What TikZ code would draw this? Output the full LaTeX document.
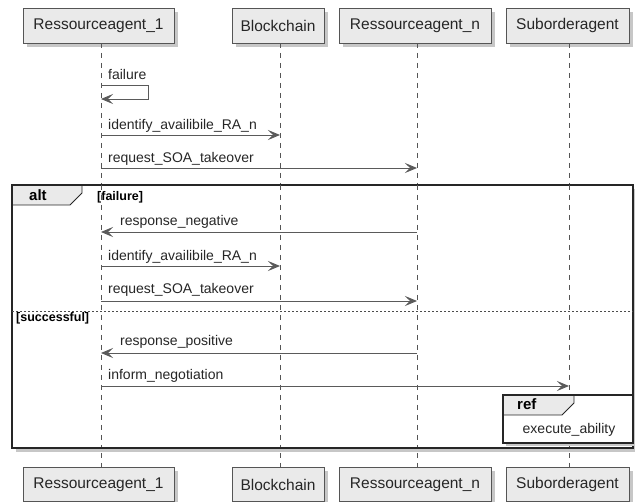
\documentclass[tikz,border=0pt]{standalone}
\usepackage{fontspec}
\setmainfont{Liberation Sans}
\usetikzlibrary{arrows.meta}
\definecolor{boxfill}{HTML}{EAEAEA}
\definecolor{boxline}{HTML}{555555}
\definecolor{msgline}{HTML}{5A5A5A}
\definecolor{lifeline}{HTML}{555555}
\tikzset{
  part/.style={draw=boxline, line width=0.8pt, fill=boxfill, minimum height=35pt, inner sep=0pt, font=\fontsize{15.5}{18}\selectfont, text=black!85},
  shadowbox/.style={fill=black!22, draw=none},
  life/.style={draw=lifeline, dash pattern=on 5pt off 5pt, line width=0.6pt},
  msg/.style={draw=msgline, line width=0.9pt, -{Stealth[length=12pt,width=10pt,inset=5pt]}},
  msgtxt/.style={anchor=base west, inner sep=0pt, font=\fontsize{14}{16}\selectfont, text=black!85},
  guard/.style={anchor=base west, inner sep=0pt, font=\bfseries\fontsize{12.5}{14}\selectfont},
  framebox/.style={draw=black!85, line width=1.6pt},
}
\begin{document}
\begin{tikzpicture}[x=1pt,y=-1pt]
\useasboundingbox (0,0) rectangle (635,502);
% shadows of participant boxes
\foreach \a/\b in {23/174,232/324,339/491,506/629}{
  \fill[shadowbox] (\a+4,12) rectangle (\b+4,47);
  \fill[shadowbox] (\a+4,471) rectangle (\b+4,505);
}
% lifelines
\coordinate (l1t) at (101,43); \coordinate (l1b) at (101,467);
\coordinate (l2t) at (280,43); \coordinate (l2b) at (280,467);
\coordinate (l3t) at (417,43); \coordinate (l3b) at (417,467);
\coordinate (l4t) at (569,43); \coordinate (l4b) at (569,467);
\draw[life] (l1t) -- (l1b);
\draw[life] (l2t) -- (l2b);
\draw[life] (l3t) -- (l3b);
\draw[life] (l4t) -- (l4b);
% participants top
\node[part, minimum width=151pt] (r1t) at (98.5,25.5) {Ressourceagent\_1};
\node[part, minimum width=92pt] (bct) at (278,25.5) {Blockchain};
\node[part, minimum width=152pt] (rnt) at (415,25.5) {Ressourceagent\_n};
\node[part, minimum width=123pt] (sat) at (567.5,25.5) {Suborderagent};
% participants bottom
\node[part, minimum width=151pt, minimum height=34pt] (r1b) at (98.5,484.5) {Ressourceagent\_1};
\node[part, minimum width=92pt, minimum height=34pt] (bcb) at (278,484.5) {Blockchain};
\node[part, minimum width=152pt, minimum height=34pt] (rnb) at (415,484.5) {Ressourceagent\_n};
\node[part, minimum width=123pt, minimum height=34pt] (sab) at (567.5,484.5) {Suborderagent};

% message 1: self failure
\node[msgtxt] (t1) at (108,80) {failure};
\coordinate (s1a) at (101,85); \coordinate (s1b) at (148,85);
\coordinate (s1c) at (148,99); \coordinate (s1d) at (101,99);
\draw[msg] (s1a) -- (s1b) -- (s1c) -- (s1d);
% message 2
\coordinate (m2a) at (101,135); \coordinate (m2b) at (280,135);
\node[msgtxt] (t2) at (108,130) {identify\_availibile\_RA\_n};
\draw[msg] (m2a) -- (m2b);
% message 3
\coordinate (m3a) at (101,168); \coordinate (m3b) at (417,168);
\node[msgtxt] (t3) at (108,163) {request\_SOA\_takeover};
\draw[msg] (m3a) -- (m3b);

% alt frame
\fill[black!22] (16,189) rectangle (637,452);
\fill[white] (12,185) rectangle (633,448);
\draw[line width=0.8pt, draw=black!85, fill=boxfill] (12,185) -- (82,185) -- (82,193) -- (70,205) -- (12,205) -- cycle;
\draw[framebox] (12,185) rectangle (633,448);
\node[anchor=base west, inner sep=0pt, font=\bfseries\fontsize{15}{17}\selectfont] (altl) at (29,201) {alt};
\node[guard] (g1) at (97,201) {[failure]};
% lifelines within frame
\draw[life] (101,185) -- (101,448);
\draw[life] (280,185) -- (280,448);
\draw[life] (417,185) -- (417,448);
\draw[life] (569,185) -- (569,448);

% message 4
\coordinate (m4a) at (417,232); \coordinate (m4b) at (101,232);
\node[msgtxt] (t4) at (120,226) {response\_negative};
\draw[msg] (m4a) -- (m4b);
% message 5
\coordinate (m5a) at (101,266); \coordinate (m5b) at (280,266);
\node[msgtxt] (t5) at (108,261) {identify\_availibile\_RA\_n};
\draw[msg] (m5a) -- (m5b);
% message 6
\coordinate (m6a) at (101,301); \coordinate (m6b) at (417,301);
\node[msgtxt] (t6) at (108,294) {request\_SOA\_takeover};
\draw[msg] (m6a) -- (m6b);
% separator
\coordinate (sepa) at (12,311); \coordinate (sepb) at (633,311);
\draw[black!70, line width=0.8pt, dash pattern=on 2pt off 2pt] (sepa) -- (sepb);
\node[guard] (g2) at (16,322) {[successful]};
% message 7
\coordinate (m7a) at (417,353); \coordinate (m7b) at (101,353);
\node[msgtxt] (t7) at (120,346) {response\_positive};
\draw[msg] (m7a) -- (m7b);
% message 8
\coordinate (m8a) at (101,386); \coordinate (m8b) at (569,386);
\node[msgtxt] (t8) at (108,380) {inform\_negotiation};
\draw[msg] (m8a) -- (m8b);

% ref frame
\fill[black!22] (506,398) rectangle (636,446);
\fill[white] (503,395) rectangle (633,443);
\draw[line width=0.8pt, draw=black!85, fill=boxfill] (503,395) -- (574,395) -- (574,403) -- (562,415) -- (503,415) -- cycle;
\draw[framebox, line width=1.3pt] (503,395) rectangle (633,443);
\node[anchor=base west, inner sep=0pt, font=\bfseries\fontsize{15}{17}\selectfont] (refl) at (517,410) {ref};
\node[inner sep=0pt, font=\fontsize{14}{16}\selectfont, text=black!85] (exa) at (569,430) {execute\_ability};
\draw[framebox] (12,448) -- (633,448);
\end{tikzpicture}
\end{document}
